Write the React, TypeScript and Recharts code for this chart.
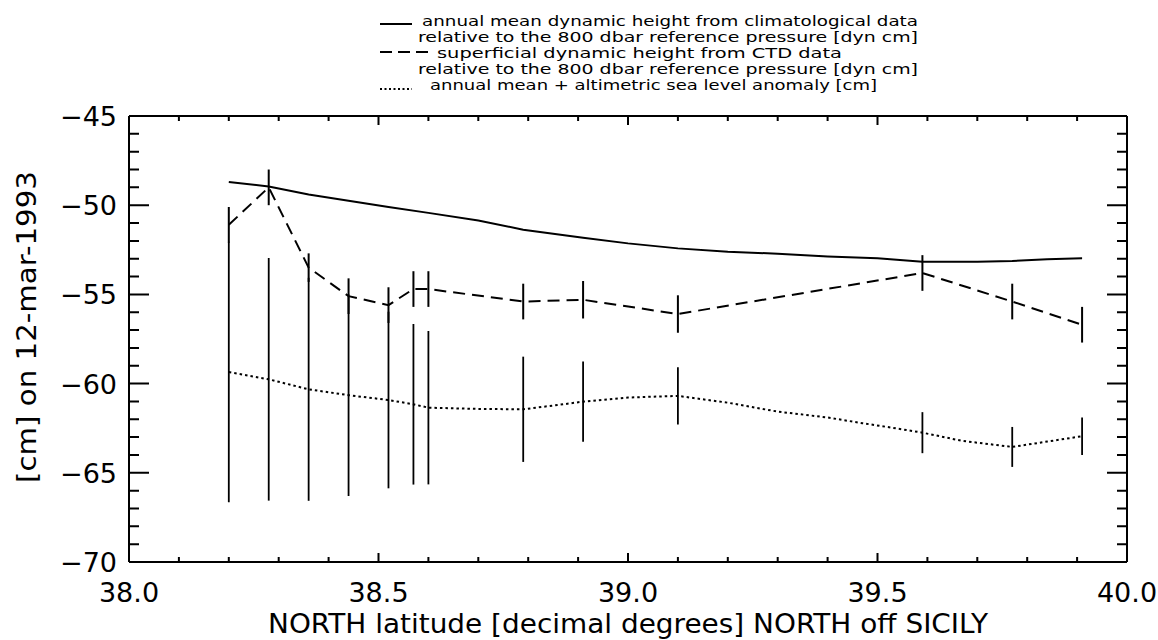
import { ComposedChart, ErrorBar, Label, Line, Scatter, XAxis, YAxis } from "recharts";

// CTD stations along the track north off Sicily
const stationLat = [38.2, 38.28, 38.36, 38.44, 38.52, 38.57, 38.6, 38.79, 38.91, 39.1, 39.59, 39.77, 39.91];
const ctdHeight = [-51.1, -49.0, -53.5, -55.1, -55.6, -54.7, -54.7, -55.4, -55.3, -56.1, -53.8, -55.4, -56.7];
const ctdError = [1.0, 1.0, 0.8, 1.0, 1.0, 1.0, 1.0, 1.0, 1.05, 1.05, 1.0, 1.0, 1.0];
const altError = [7.3, 6.8, 6.25, 5.65, 4.95, 4.5, 4.3, 2.95, 2.25, 1.6, 1.15, 1.12, 1.05];

// climatological annual mean
const climLat = [38.2, 38.28, 38.36, 38.44, 38.52, 38.6, 38.7, 38.79, 38.91, 39.0, 39.1, 39.2, 39.3, 39.4, 39.5, 39.59, 39.7, 39.77, 39.84, 39.91];
const climHeight = [-48.7, -48.95, -49.4, -49.75, -50.1, -50.43, -50.86, -51.37, -51.83, -52.14, -52.42, -52.61, -52.72, -52.87, -52.98, -53.17, -53.17, -53.13, -53.03, -52.98];

// annual mean + altimetric anomaly
const altLat = [38.2, 38.28, 38.36, 38.44, 38.52, 38.57, 38.6, 38.7, 38.79, 38.87, 38.91, 39.0, 39.1, 39.2, 39.3, 39.4, 39.47, 39.54, 39.59, 39.67, 39.77, 39.84, 39.91];
const altHeight = [-59.35, -59.76, -60.32, -60.65, -60.92, -61.16, -61.35, -61.42, -61.44, -61.16, -61.01, -60.78, -60.69, -61.07, -61.57, -61.9, -62.22, -62.52, -62.75, -63.21, -63.55, -63.25, -62.95];

const xTicks = [38.0, 38.1, 38.2, 38.3, 38.4, 38.5, 38.6, 38.7, 38.8, 38.9, 39.0, 39.1, 39.2, 39.3, 39.4, 39.5, 39.6, 39.7, 39.8, 39.9, 40.0];
const xMajor = [38.0, 38.5, 39.0, 39.5, 40.0];
const xMajorLabels = ["38.0", "38.5", "39.0", "39.5", "40.0"];
const yTicks = [-70, -69, -68, -67, -66, -65, -64, -63, -62, -61, -60, -59, -58, -57, -56, -55, -54, -53, -52, -51, -50, -49, -48, -47, -46, -45];
const yMajor = [-70, -65, -60, -55, -50, -45];
const yMajorLabels = ["\u221270", "\u221265", "\u221260", "\u221255", "\u221250", "\u221245"];

const legendLabels = [
  "annual mean dynamic height from climatological data",
  "relative to the 800 dbar reference pressure [dyn cm]",
  "superficial dynamic height from CTD data",
  "relative to the 800 dbar reference pressure [dyn cm]",
  "annual mean + altimetric sea level anomaly [cm]",
];

const FONT = "'DejaVu Sans', sans-serif";
const FRAME = { stroke: "#000", strokeWidth: 2 };

// plot box; the chart margins and axis sizes below are derived from it
const W = 1158;
const H = 640;
const PLOT = { left: 129, right: 1127, top: 116, bottom: 562 };
const X_DOMAIN = [38, 40];
const Y_DOMAIN = [-70, -45];

const climData = climLat.map((x, i) => ({ x, y: climHeight[i] }));
const ctdData = stationLat.map((x, i) => ({ x, y: ctdHeight[i], err: ctdError[i] }));
const altData = altLat.map((x, i) => ({ x, y: altHeight[i] }));
const altBars = stationLat.map((x, i) => ({ x, y: altHeight[altLat.indexOf(x)], err: altError[i] }));

const majorIndex = (list: number[], v: number) => list.findIndex((m) => Math.abs(m - Number(v)) < 1e-6);

const BottomTickLabel = (props: any) => {
  const k = majorIndex(xMajor, props.payload.value);
  if (k < 0) return <g />;
  return (
    <text x={Number(props.x)} y={Number(props.y) + 40} textAnchor="middle" fontFamily={FONT} fontSize={27} fill="#000">
      {xMajorLabels[k]}
    </text>
  );
};

const LeftTickLabel = (props: any) => {
  const k = majorIndex(yMajor, props.payload.value);
  if (k < 0) return <g />;
  return (
    <text x={Number(props.x) - 12} y={Number(props.y) + 10} textAnchor="end" fontFamily={FONT} fontSize={27} fill="#000">
      {yMajorLabels[k]}
    </text>
  );
};

const NoLabel = () => <g />;

// inward IDL-style tick marks on all four sides of the frame
function FrameTicks() {
  const px = (v: number) => PLOT.left + ((v - X_DOMAIN[0]) / (X_DOMAIN[1] - X_DOMAIN[0])) * (PLOT.right - PLOT.left);
  const py = (v: number) => PLOT.bottom - ((v - Y_DOMAIN[0]) / (Y_DOMAIN[1] - Y_DOMAIN[0])) * (PLOT.bottom - PLOT.top);
  const segs: string[] = [];
  xTicks.forEach((v) => {
    const len = majorIndex(xMajor, v) >= 0 ? 9 : 5;
    const x = px(v);
    segs.push(`M${x},${PLOT.bottom}V${PLOT.bottom - len}`);
    segs.push(`M${x},${PLOT.top}V${PLOT.top + len}`);
  });
  yTicks.forEach((v) => {
    const len = majorIndex(yMajor, v) >= 0 ? 20 : 10;
    const y = py(v);
    segs.push(`M${PLOT.left},${y}H${PLOT.left + len}`);
    segs.push(`M${PLOT.right},${y}H${PLOT.right - len}`);
  });
  return (
    <svg width={W} height={H} style={{ position: "absolute", left: 0, top: 0, pointerEvents: "none" }}>
      <path d={segs.join("")} stroke="#000" strokeWidth={2} fill="none" />
    </svg>
  );
}

function LegendBlock() {
  const rows = [
    { dash: "solid", tx: 422, end: 918 },
    { dash: "", tx: 418, end: 918 },
    { dash: "dashed", tx: 437, end: 842 },
    { dash: "", tx: 418, end: 918 },
    { dash: "dotted", tx: 430, end: 877 },
  ];
  return (
    <svg width={W} height={100} style={{ position: "absolute", left: 0, top: 0 }}>
      {rows.map((r, i) => {
        const base = 26 + i * 16;
        return (
          <g key={i}>
            {r.dash === "solid" && <line x1={380} x2={412} y1={base - 2} y2={base - 2} stroke="#000" strokeWidth={2} />}
            {r.dash === "dashed" && (
              <line x1={380} x2={430} y1={base - 6} y2={base - 6} stroke="#000" strokeWidth={2} strokeDasharray="12 6" />
            )}
            {r.dash === "dotted" && (
              <line x1={380} x2={412} y1={base - 1} y2={base - 1} stroke="#000" strokeWidth={2} strokeDasharray="2 2.5" />
            )}
            <text
              x={r.tx}
              y={base}
              fontFamily={FONT}
              fontSize={14}
              fill="#000"
              textLength={r.end - r.tx}
              lengthAdjust="spacingAndGlyphs"
            >
              {legendLabels[i]}
            </text>
          </g>
        );
      })}
    </svg>
  );
}

export default function App() {
  return (
    <div style={{ position: "absolute", left: 0, top: 0, width: W, height: H, background: "#fff" }}>
      <ComposedChart width={W} height={H} margin={{ top: PLOT.top - 20, right: 0, bottom: 0, left: 0 }}>
        <XAxis
          xAxisId="bottom"
          dataKey="x"
          type="number"
          domain={X_DOMAIN}
          ticks={xTicks}
          interval={0}
          height={H - PLOT.bottom}
          tickSize={0}
          tickMargin={0}
          tickLine={false}
          tick={BottomTickLabel}
          axisLine={FRAME}
          allowDataOverflow
        >
          <Label
            content={() => (
              <text x={628} y={633} textAnchor="middle" fontFamily={FONT} fontSize={26} fill="#000" textLength={720} lengthAdjust="spacingAndGlyphs">
                NORTH latitude [decimal degrees] NORTH off SICILY
              </text>
            )}
          />
        </XAxis>
        <XAxis
          xAxisId="top"
          orientation="top"
          dataKey="x"
          type="number"
          domain={X_DOMAIN}
          ticks={xTicks}
          height={20}
          tickSize={0}
          tickLine={false}
          tick={NoLabel}
          axisLine={FRAME}
          allowDataOverflow
        />
        <YAxis
          yAxisId="left"
          dataKey="y"
          type="number"
          domain={Y_DOMAIN}
          ticks={yTicks}
          interval={0}
          width={PLOT.left}
          tickSize={0}
          tickMargin={0}
          tickLine={false}
          tick={LeftTickLabel}
          axisLine={FRAME}
          allowDataOverflow
        >
          <Label
            content={() => (
              <text
                transform="translate(36,327) rotate(-90)"
                textAnchor="middle"
                fontFamily={FONT}
                fontSize={27}
                fill="#000"
                textLength={312}
                lengthAdjust="spacingAndGlyphs"
              >
                [cm] on 12-mar-1993
              </text>
            )}
          />
        </YAxis>
        <YAxis
          yAxisId="right"
          orientation="right"
          type="number"
          domain={Y_DOMAIN}
          ticks={yTicks}
          width={W - PLOT.right}
          tickSize={0}
          tickLine={false}
          tick={NoLabel}
          axisLine={FRAME}
          allowDataOverflow
        />
        <Line
          xAxisId="bottom"
          yAxisId="left"
          data={climData}
          dataKey="y"
          type="linear"
          stroke="#000"
          strokeWidth={2}
          dot={false}
          activeDot={false}
          isAnimationActive={false}
        />
        <Line
          xAxisId="bottom"
          yAxisId="left"
          data={ctdData}
          dataKey="y"
          type="linear"
          stroke="#000"
          strokeWidth={2}
          strokeDasharray="12 7"
          dot={false}
          activeDot={false}
          isAnimationActive={false}
        />
        <Line
          xAxisId="bottom"
          yAxisId="left"
          data={altData}
          dataKey="y"
          type="linear"
          stroke="#000"
          strokeWidth={2}
          strokeDasharray="2.5 3"
          dot={false}
          activeDot={false}
          isAnimationActive={false}
        />
        <Scatter xAxisId="bottom" yAxisId="left" data={ctdData} dataKey="y" shape={NoLabel} isAnimationActive={false}>
          <ErrorBar dataKey="err" direction="y" width={0} stroke="#000" strokeWidth={2} isAnimationActive={false} />
        </Scatter>
        <Scatter xAxisId="bottom" yAxisId="left" data={altBars} dataKey="y" shape={NoLabel} isAnimationActive={false}>
          <ErrorBar dataKey="err" direction="y" width={0} stroke="#000" strokeWidth={1.8} isAnimationActive={false} />
        </Scatter>
      </ComposedChart>
      <FrameTicks />
      <LegendBlock />
    </div>
  );
}
